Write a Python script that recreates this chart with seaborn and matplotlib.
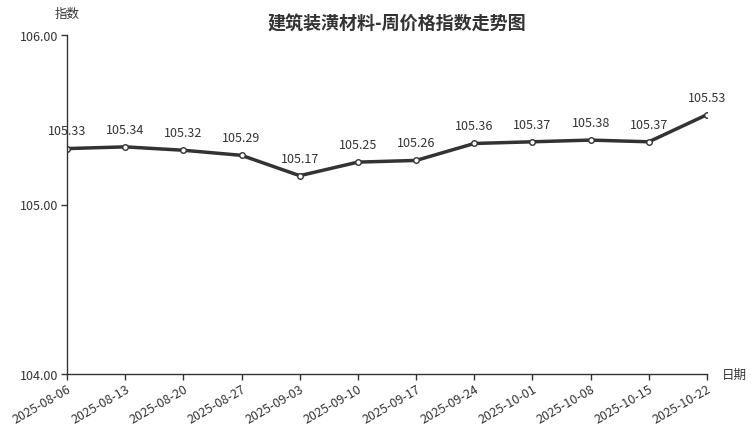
import matplotlib
matplotlib.use("Agg")
import matplotlib.pyplot as plt
import seaborn as sns
import pandas as pd

dates = ["2025-08-06", "2025-08-13", "2025-08-20", "2025-08-27", "2025-09-03", "2025-09-10",
         "2025-09-17", "2025-09-24", "2025-10-01", "2025-10-08", "2025-10-15", "2025-10-22"]
values = [105.33, 105.34, 105.32, 105.29, 105.17, 105.25, 105.26, 105.36, 105.37, 105.38, 105.37, 105.53]
y_ticks = [104.0, 105.0, 106.0]

sns.set_theme(style="white")
plt.rcParams['font.family'] = ['Noto Sans CJK SC', 'DejaVu Sans']

df = pd.DataFrame({"date": dates, "value": values})
df["x"] = range(len(df))

fig = plt.figure(figsize=(7.52, 4.27), dpi=100)
ax = fig.add_axes([67 / 752, 1 - 375 / 427, 640 / 752, 339 / 427])

sns.lineplot(data=df, x="x", y="value", ax=ax, color="#333333", linewidth=2.5,
             marker="o", markersize=4, markerfacecolor="white", markeredgecolor="#333333",
             markeredgewidth=1)

for xi, v in zip(df["x"], df["value"]):
    ax.annotate(f"{v:.2f}", (xi, v), xytext=(0, 8), textcoords="offset points",
                ha="center", va="bottom", fontsize=9, color="#333333")

ax.set_xlim(0, len(df) - 1)
ax.set_ylim(104, 106)
ax.set_yticks(y_ticks)
ax.set_yticklabels([f"{t:.2f}" for t in y_ticks], fontsize=9, color="#333333")
ax.set_xticks(df["x"])
ax.set_xticklabels(df["date"], rotation=30, ha="right", rotation_mode="anchor",
                   fontsize=9, color="#333333")
ax.tick_params(axis="both", length=4, width=1, color="#333333", bottom=True, left=True, pad=2)

for s in ["top", "right"]:
    ax.spines[s].set_visible(False)
for s in ["left", "bottom"]:
    ax.spines[s].set_color("#333333")
    ax.spines[s].set_linewidth(1)

ax.set_xlabel("")
ax.set_ylabel("")
fig.text(67 / 752, 1 - 14 / 427, "指数", ha="center", va="center", fontsize=9, color="#333333")
fig.text(734 / 752, 1 - 375 / 427, "日期", ha="center", va="center", fontsize=9, color="#333333")
fig.text(397 / 752, 1 - 24 / 427, "建筑装潢材料-周价格指数走势图", ha="center", va="center",
         fontsize=13, fontweight="bold", color="#333333")

fig.savefig("out.png", dpi=100)
